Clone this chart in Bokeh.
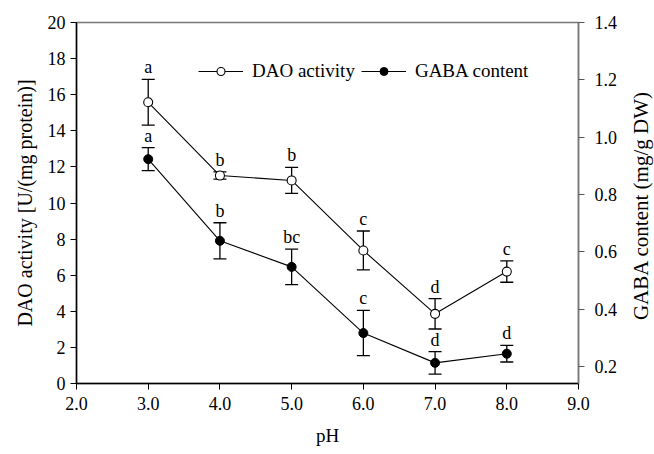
import math
from bokeh.plotting import figure
from bokeh.models import (Range1d, LinearAxis, FixedTicker, NumeralTickFormatter,
                          ColumnDataSource, Whisker, TeeHead, Legend, LegendItem, Label)
from bokeh.embed import file_html
from bokeh.resources import INLINE

ph = [3.0, 4.0, 5.0, 6.0, 7.0, 8.0]
dao = [15.58, 11.52, 11.25, 7.37, 3.86, 6.20]
dao_err = [1.27, 0.20, 0.72, 1.08, 0.84, 0.59]
dao_letters = ["a", "b", "b", "c", "d", "c"]
gaba = [0.923, 0.638, 0.547, 0.316, 0.212, 0.244]
gaba_err = [0.040, 0.063, 0.062, 0.079, 0.039, 0.029]
gaba_letters = ["a", "b", "bc", "c", "d", "d"]

x_ticks = [2, 3, 4, 5, 6, 7, 8, 9]
left_ticks = [0, 2, 4, 6, 8, 10, 12, 14, 16, 18, 20]
right_ticks = [0.2, 0.4, 0.6, 0.8, 1.0, 1.2, 1.4]

FONT = "Liberation Serif"

p = figure(width=654, height=454, output_backend="svg", toolbar_location=None,
           x_range=Range1d(2, 9), y_range=Range1d(0, 20),
           min_border_left=76, min_border_right=76, min_border_top=22, min_border_bottom=71)
p.extra_y_ranges = {"right": Range1d(0.14, 1.4)}
p.xgrid.visible = False
p.ygrid.visible = False
p.outline_line_color = "#777777"
p.outline_line_width = 1.5
p.background_fill_color = "white"
p.border_fill_color = "white"

def style_axis(ax, fsize="18px"):
    ax.major_label_text_font = FONT
    ax.major_label_text_font_size = fsize
    ax.major_label_text_color = "black"
    ax.axis_label_text_font = FONT
    ax.axis_label_text_font_style = "normal"
    ax.axis_label_text_color = "black"
    ax.minor_tick_line_color = None
    ax.major_tick_in = 0
    ax.major_tick_out = 6
    ax.major_tick_line_color = "black"
    ax.axis_line_color = "black"
    ax.axis_line_width = 1.5

xa = p.xaxis[0]
style_axis(xa)
xa.ticker = FixedTicker(ticks=x_ticks)
xa.formatter = NumeralTickFormatter(format="0.0")
xa.axis_label = "pH"
xa.axis_label_text_font_size = "19px"
xa.axis_label_standoff = 12
xa.major_label_standoff = 7

ya = p.yaxis[0]
style_axis(ya)
ya.ticker = FixedTicker(ticks=left_ticks)
ya.axis_label = "DAO activity [U/(mg protein)]"
ya.axis_label_text_font_size = "20px"
ya.axis_label_standoff = 9

ra = LinearAxis(y_range_name="right", ticker=FixedTicker(ticks=right_ticks),
                formatter=NumeralTickFormatter(format="0.0"))
style_axis(ra)
ra.axis_line_color = "#777777"
ra.major_tick_line_color = "#555555"
ra.major_label_standoff = 10
p.add_layout(ra, "right")

# right axis title, reading bottom-to-top as in the reference
p.add_layout(Label(x=20, y=178, x_units="screen", y_units="screen",
                   text="GABA content (mg/g DW)", angle=math.pi / 2,
                   text_align="center", text_baseline="middle",
                   text_font=FONT, text_font_size="21px", text_color="black"), "right")

dsrc = ColumnDataSource(dict(x=ph, y=dao,
                             upper=[v + e for v, e in zip(dao, dao_err)],
                             lower=[v - e for v, e in zip(dao, dao_err)],
                             lab=dao_letters))
gsrc = ColumnDataSource(dict(x=ph, y=gaba,
                             upper=[v + e for v, e in zip(gaba, gaba_err)],
                             lower=[v - e for v, e in zip(gaba, gaba_err)],
                             lab=gaba_letters))

for src, rname in ((dsrc, "default"), (gsrc, "right")):
    w = Whisker(base="x", upper="upper", lower="lower", source=src,
                line_color="black", line_width=1.3,
                upper_head=TeeHead(size=13, line_color="black", line_width=1.3),
                lower_head=TeeHead(size=13, line_color="black", line_width=1.3),
                y_range_name=rname)
    p.add_layout(w)

dl = p.line("x", "y", source=dsrc, line_color="black", line_width=1.1)
dm = p.scatter("x", "y", source=dsrc, size=9, marker="circle",
               fill_color="white", line_color="black", line_width=1.1)
gl = p.line("x", "y", source=gsrc, line_color="black", line_width=1.1, y_range_name="right")
gm = p.scatter("x", "y", source=gsrc, size=9, marker="circle",
               fill_color="black", line_color="black", y_range_name="right")

for src, rname in ((dsrc, "default"), (gsrc, "right")):
    p.text("x", "upper", text="lab", source=src, y_range_name=rname,
           text_align="center", text_baseline="bottom", y_offset=-2,
           text_font={"value": FONT}, text_font_size="18px", text_color="black")

legend = Legend(items=[LegendItem(label="DAO activity", renderers=[dl, dm]),
                       LegendItem(label="GABA content", renderers=[gl, gm])],
                orientation="horizontal", location=(122, 301),
                padding=0, margin=0, spacing=6, label_standoff=9,
                glyph_width=45, glyph_height=20,
                border_line_color=None, background_fill_alpha=0,
                label_text_font=FONT, label_text_font_size="19px",
                label_text_color="black")
p.add_layout(legend, "center")

open("out.html", "w").write(file_html(p, INLINE))
